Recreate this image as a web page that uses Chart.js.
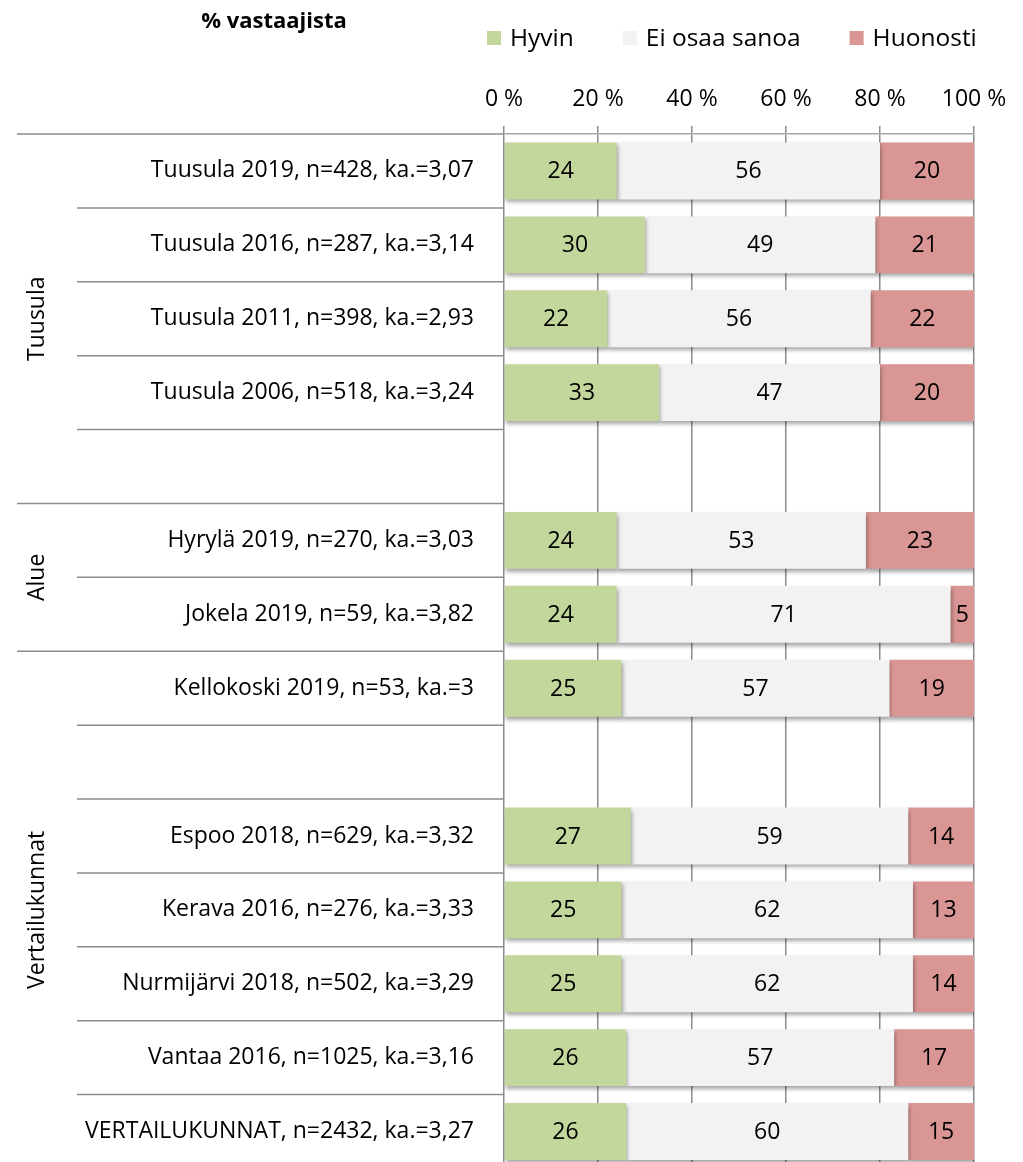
<!DOCTYPE html>
<html>
<head>
<meta charset="utf-8">
<script src="https://cdn.jsdelivr.net/npm/chart.js@4/dist/chart.umd.min.js"></script>
<style>
  html, body { margin: 0; padding: 0; background: #fff; overflow: hidden; }
  #wrap { width: 1023px; height: 1170px; position: relative; }
</style>
</head>
<body>
<div id="wrap"><canvas id="c"></canvas></div>
<script>
// ---- data ----
const categories = [
  'Tuusula 2019, n=428, ka.=3,07',
  'Tuusula 2016, n=287, ka.=3,14',
  'Tuusula 2011, n=398, ka.=2,93',
  'Tuusula 2006, n=518, ka.=3,24',
  '',
  'Hyrylä 2019, n=270, ka.=3,03',
  'Jokela 2019, n=59, ka.=3,82',
  'Kellokoski 2019, n=53, ka.=3',
  '',
  'Espoo 2018, n=629, ka.=3,32',
  'Kerava 2016, n=276, ka.=3,33',
  'Nurmijärvi 2018, n=502, ka.=3,29',
  'Vantaa 2016, n=1025, ka.=3,16',
  'VERTAILUKUNNAT, n=2432, ka.=3,27'
];
const seriesNames = ['Hyvin', 'Ei osaa sanoa', 'Huonosti'];
const hyvin    = [24, 30, 22, 33, null, 24, 24, 25, null, 27, 25, 25, 26, 26];
const eiOsaa   = [56, 49, 56, 47, null, 53, 71, 57, null, 59, 62, 62, 57, 60];
const huonosti = [20, 21, 22, 20, null, 23,  5, 19, null, 14, 13, 14, 17, 15];
const xTicks = [0, 20, 40, 60, 80, 100];
const groupNames = ['Tuusula', 'Alue', 'Vertailukunnat'];
const groupStart = [0, 5, 7];
const groupEnd   = [5, 7, 14];
const titleText = '% vastaajista';

// ---- styles ----
const FONT = '"Open Sans", "Noto Sans", sans-serif';
const colors = ['#C3D69B', '#F2F2F2', '#D99694'];
const gridColor = '#8c8c8c';

Chart.defaults.font.family = FONT;
Chart.defaults.color = '#000';

const decor = {
  id: 'decor',
  beforeDatasetsDraw(chart) {
    const ctx = chart.ctx;
    ctx.save();
    ctx.shadowColor = 'rgba(0,0,0,0.35)';
    ctx.shadowBlur = 4;
    ctx.shadowOffsetX = 1;
    ctx.shadowOffsetY = 3;
  },
  afterDatasetsDraw(chart) {
    const ctx = chart.ctx;
    ctx.restore();
    const area = chart.chartArea;
    ctx.save();
    ctx.font = '23px ' + FONT;
    ctx.fillStyle = '#000';
    ctx.textAlign = 'center';
    ctx.textBaseline = 'middle';
    chart.data.datasets.forEach((ds, di) => {
      const meta = chart.getDatasetMeta(di);
      meta.data.forEach((el, i) => {
        const v = ds.data[i];
        if (v === null || v === undefined) return;
        const x0 = Math.max(Math.min(el.base, el.x), area.left);
        const x1 = Math.min(Math.max(el.base, el.x), area.right);
        ctx.fillText(String(v), (x0 + x1) / 2, el.y + 1);
      });
    });
    ctx.restore();
  },
  afterDraw(chart) {
    const ctx = chart.ctx;
    const area = chart.chartArea;
    const y = chart.scales.y;
    const rowH = y.getPixelForValue(1) - y.getPixelForValue(0);
    ctx.save();
    // separators
    ctx.strokeStyle = gridColor;
    ctx.lineWidth = 1.5;
    for (let i = 0; i <= categories.length; i++) {
      const yy = y.getPixelForValue(i) - rowH / 2;
      const full = groupStart.includes(i);
      ctx.beginPath();
      ctx.moveTo(full ? 17 : 77, yy);
      ctx.lineTo(area.left, yy);
      ctx.stroke();
    }
    // group labels
    ctx.fillStyle = '#000';
    ctx.font = '23px ' + FONT;
    ctx.textAlign = 'center';
    ctx.textBaseline = 'middle';
    groupNames.forEach((g, k) => {
      const top = y.getPixelForValue(groupStart[k]) - rowH / 2;
      const bot = y.getPixelForValue(groupEnd[k]) - rowH / 2;
      ctx.save();
      ctx.translate(37, (top + bot) / 2);
      ctx.rotate(-Math.PI / 2);
      ctx.fillText(g, 0, 0);
      ctx.restore();
    });
    // title
    ctx.font = 'bold 22px ' + FONT;
    ctx.textAlign = 'center';
    ctx.textBaseline = 'alphabetic';
    ctx.fillText(titleText, 274, 28);
    // legend
    ctx.font = '24.5px ' + FONT;
    ctx.textAlign = 'left';
    let lx = 487;
    seriesNames.forEach((n, k) => {
      ctx.fillStyle = colors[k];
      ctx.fillRect(lx, 31, 14, 14);
      ctx.fillStyle = '#000';
      ctx.fillText(n, lx + 23, 46);
      lx += 23 + ctx.measureText(n).width + 49;
    });
    ctx.restore();
  }
};

new Chart(document.getElementById('c'), {
  type: 'bar',
  data: {
    labels: categories,
    datasets: [
      { label: seriesNames[0], data: hyvin, backgroundColor: colors[0] },
      { label: seriesNames[1], data: eiOsaa, backgroundColor: colors[1] },
      { label: seriesNames[2], data: huonosti, backgroundColor: colors[2] }
    ]
  },
  options: {
    indexAxis: 'y',
    responsive: true,
    maintainAspectRatio: false,
    animation: false,
    datasets: { bar: { barPercentage: 0.77, categoryPercentage: 1.0, borderWidth: 0 } },
    layout: { padding: { top: 0, left: 0, right: 49, bottom: 1.5 } },
    plugins: {
      legend: { display: false },
      title: { display: false },
      tooltip: { enabled: false }
    },
    scales: {
      x: {
        position: 'top',
        stacked: true,
        min: 0,
        max: 100,
        afterBuildTicks: (s) => { s.ticks = xTicks.map(v => ({ value: v })); },
        afterFit: (s) => { s.height = 134; },
        ticks: {
          font: { size: 23 },
          color: '#000',
          padding: 13,
          callback: (v) => v + ' %'
        },
        grid: { color: gridColor, lineWidth: 1.5, tickLength: 8, drawTicks: true },
        border: { display: true, color: '#a6a6a6', width: 1.5 }
      },
      y: {
        stacked: true,
        afterFit: (s) => { s.width = 504; s.paddingTop = 0; s.paddingBottom = 0; },
        ticks: { font: { size: 23 }, color: '#000', padding: 22 },
        grid: { display: false },
        border: { display: false }
      }
    }
  },
  plugins: [decor]
});
</script>
</body>
</html>
